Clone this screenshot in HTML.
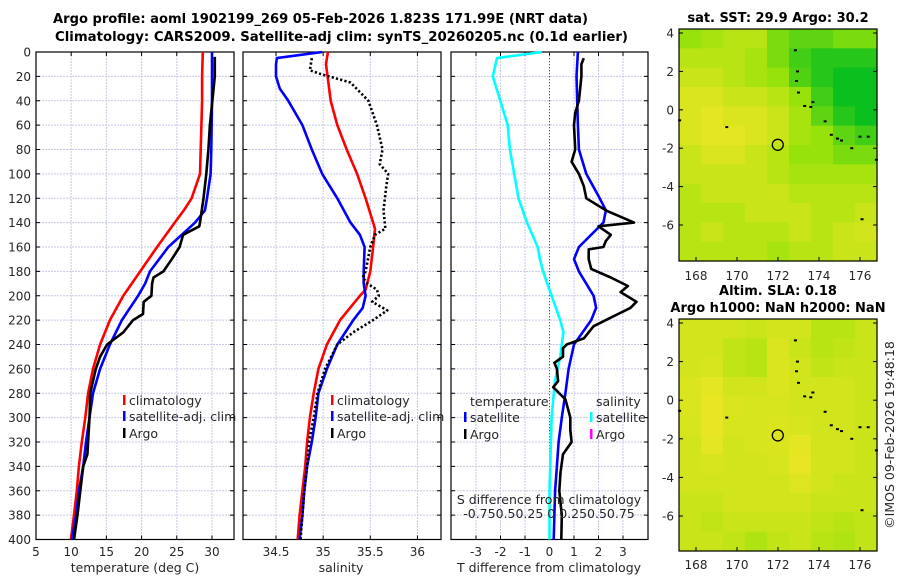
<!DOCTYPE html>
<html><head><meta charset="utf-8">
<style>
body{margin:0;background:#fff;}
svg{display:block;font-family:"DejaVu Sans","Liberation Sans",sans-serif;}
</style></head>
<body>
<svg id="fig" width="900" height="580" viewBox="0 0 900 580">
<g font-weight="bold" font-size="13" fill="#000" text-anchor="middle">
<text x="53" y="23" text-anchor="start" textLength="535" lengthAdjust="spacingAndGlyphs">Argo profile: aoml 1902199_269 05-Feb-2026 1.823S 171.99E (NRT data)</text>
<text x="55" y="41" text-anchor="start" textLength="573" lengthAdjust="spacingAndGlyphs">Climatology: CARS2009. Satellite-adj clim: synTS_20260205.nc (0.1d earlier)</text>
<text x="778" y="22">sat. SST: 29.9 Argo: 30.2</text>
<text x="778" y="295">Altim. SLA: 0.18</text>
<text x="778" y="312">Argo h1000: NaN h2000: NaN</text>
</g>
<text x="0" y="0" transform="translate(894,435) rotate(-90)" text-anchor="middle" font-size="12.5" fill="#262626">©IMOS 09-Feb-2026 19:48:18</text>
</svg>
<script>
// ---------- data ----------
const depthTicks = [0,20,40,60,80,100,120,140,160,180,200,220,240,260,280,300,320,340,360,380,400];
const tempTicks = [5,10,15,20,25,30];
const salTicks = [34.5,35,35.5,36];
const salTickLabels = ['34.5','35','35.5','36'];
const dTTicks = [-3,-2,-1,0,1,2,3];

const tClimDepth = [0,20,40,60,80,100,120,130,140,160,180,200,220,240,260,280,300,320,340,360,380,400];
const tClimVal   = [28.7,28.6,28.6,28.5,28.4,28.3,27.1,26.0,24.7,22.2,19.8,17.4,15.5,14.1,13.1,12.4,12.0,11.5,11.1,10.8,10.4,9.96];
const tSatDepth  = [0,40,80,100,120,130,140,150,160,180,190,200,220,240,260,280,300,320,340,360,380,400];
const tSatVal    = [30.0,30.0,29.9,29.8,29.3,29.0,27.6,25.7,23.8,21.2,20.5,19.5,17.2,15.5,14.1,13.1,12.6,12.1,11.7,11.1,10.7,10.1];
const tArgoDepth = [4,20,60,80,100,120,140,143,150,160,170,180,185,190,200,205,215,220,230,240,250,260,280,300,320,330,340,360,380,400];
const tArgoVal   = [30.4,30.4,29.7,29.5,29.2,28.8,28.3,28.2,25.9,25.4,24.3,23.1,21.7,21.5,21.4,20.3,20.2,18.8,17.4,15.1,14.1,13.5,12.7,12.6,12.4,12.3,11.7,11.3,10.9,10.4];

const sClimDepth = [0,10,40,60,80,100,120,145,160,180,195,200,220,240,260,280,300,320,340,360,380,400];
const sClimVal   = [35.05,35.03,35.08,35.15,35.25,35.36,35.45,35.55,35.53,35.5,35.45,35.39,35.18,35.04,34.95,34.9,34.86,34.83,34.81,34.78,34.75,34.73];
const sSatDepth  = [0,5,10,20,30,40,60,80,100,120,140,150,160,180,190,200,210,220,240,260,280,300,320,340,360,380,400];
const sSatVal    = [34.99,34.51,34.5,34.5,34.54,34.63,34.78,34.88,34.99,35.15,35.29,35.39,35.44,35.43,35.43,35.45,35.42,35.32,35.15,35.04,34.95,34.92,34.88,34.83,34.8,34.78,34.75];
const sArgoDepth = [5,15,18,25,40,60,80,92,100,110,130,145,150,160,180,185,190,195,200,205,212,220,230,240,260,280,300,320,340,360,380,400];
const sArgoVal   = [34.88,34.86,34.97,35.29,35.48,35.57,35.63,35.6,35.69,35.67,35.64,35.66,35.55,35.5,35.45,35.42,35.47,35.57,35.59,35.52,35.68,35.53,35.32,35.15,35.02,34.94,34.9,34.85,34.83,34.8,34.78,34.76];

const dTSatDepth = [0,20,60,80,100,120,130,140,160,170,180,200,210,220,240,260,280,300,320,340,360,380,400];
const dTSatVal   = [1.16,1.1,1.16,1.2,1.5,2.05,2.3,2.2,1.2,1.0,1.2,1.8,1.9,1.7,1.0,0.78,0.65,0.5,0.37,0.3,0.23,0.2,0.17];
const dTArgoDepth = [5,10,20,40,50,60,80,90,100,110,120,125,130,140,143,150,155,160,162,170,178,185,192,197,205,210,215,220,225,235,240,243,250,255,260,270,275,285,300,310,320,330,345,360,380,400];
const dTArgoVal   = [1.4,1.3,1.3,1.2,1.05,1.0,1.05,0.9,1.2,1.4,1.5,1.9,2.3,3.45,2.0,2.5,2.3,2.2,1.6,1.6,1.7,2.5,3.2,2.9,3.55,3.3,2.8,2.3,1.8,1.4,0.7,0.55,0.55,0.2,0.3,0.35,0.15,0.65,0.85,0.85,0.9,0.55,0.45,0.4,0.5,0.48];
const dSSatDepth = [0,5,20,40,60,80,100,120,140,160,170,180,200,220,230,250,270,300,330,360,400];
const dSSatVal   = [-0.07,-0.49,-0.53,-0.46,-0.39,-0.37,-0.33,-0.29,-0.21,-0.11,-0.09,-0.06,0.02,0.1,0.13,0.1,0.05,0.02,0.01,0.0,0.0];

const lonTicks = [168,170,172,174,176];
const latTicks = [4,2,0,-2,-4,-6];
const sstGrid = [
 [0.5,0.4,0.3,0.3,0.6,0.7,0.7,0.6,0.6],
 [0.3,0.3,0.3,0.4,0.6,0.8,0.9,0.9,0.9],
 [0.2,0.2,0.3,0.4,0.5,0.75,0.9,1,1],
 [0.1,0.1,0.2,0.2,0.3,0.5,0.8,1,1],
 [0.1,0.05,0.1,0.1,0.2,0.4,0.7,0.9,1],
 [0.1,0.05,0.05,0.1,0.2,0.4,0.5,0.7,0.8],
 [0.2,0.1,0.1,0.2,0.3,0.5,0.5,0.6,0.6],
 [0.2,0.2,0.2,0.2,0.3,0.4,0.4,0.4,0.4],
 [0.3,0.2,0.2,0.2,0.2,0.3,0.3,0.3,0.3],
 [0.3,0.3,0.3,0.2,0.2,0.2,0.3,0.3,0.2],
 [0.3,0.2,0.3,0.3,0.3,0.2,0.3,0.2,0.15],
 [0.3,0.3,0.3,0.3,0.4,0.3,0.3,0.2,0.2]];
const slaGrid = [
 [0.15,0.15,0.15,0.2,0.15,0.15,0.3,0.3,0.2],
 [0.15,0.15,0.25,0.3,0.1,0.2,0.3,0.25,0.2],
 [0.15,0.12,0.25,0.3,0.1,0.15,0.25,0.2,0.2],
 [0.1,0.05,0.15,0.15,0.1,0.15,0.15,0.15,0.2],
 [0.1,0.02,0.1,0.12,0.12,0.15,0.15,0.15,0.2],
 [0.12,0.02,0.12,0.12,0.1,0.12,0.15,0.15,0.2],
 [0.15,0.05,0.15,0.12,0.1,0.05,0.15,0.15,0.2],
 [0.15,0.12,0.15,0.15,0.12,0.02,0.15,0.15,0.2],
 [0.15,0.15,0.15,0.15,0.15,0.08,0.15,0.2,0.2],
 [0.2,0.2,0.15,0.15,0.15,0.15,0.2,0.2,0.2],
 [0.2,0.25,0.2,0.2,0.2,0.2,0.25,0.3,0.25],
 [0.2,0.2,0.25,0.35,0.25,0.2,0.3,0.35,0.25]];
const islandLon = [172.85,172.95,172.9,173.0,173.3,173.6,173.7,174.3,174.6,174.9,175.1,175.6,176.0,176.4,176.8,169.5,167.2,176.1];
const islandLat = [3.1,2.0,1.5,0.9,0.2,0.15,0.4,-0.6,-1.3,-1.5,-1.6,-2.0,-1.4,-1.4,-2.6,-0.9,-0.55,-5.7];
const argoLon = [171.99];
const argoLat = [-1.823];

// ---------- helpers ----------
const NS='http://www.w3.org/2000/svg';
const svg=document.getElementById('fig');
function el(tag,attrs,parent){const e=document.createElementNS(NS,tag);for(const k in attrs)e.setAttribute(k,attrs[k]);(parent||svg).appendChild(e);return e;}
function txt(x,y,s,anchor,parent,size){const t=el('text',{x:x,y:y,'text-anchor':anchor||'middle','font-size':size||12,fill:'#262626'},parent);t.textContent=s;return t;}

const Y0=52, Y1=539.5, DMAX=400;
const yD=d=>Y0+(d/DMAX)*(Y1-Y0);
const P1={x0:36,x1:234,v0:5,v1:33.13};
const P2={x0:243,x1:441,v0:34.15,v1:36.25};
const P3={x0:451,x1:648,v0:-4.02,v1:4.02};
const S3={v0:-0.92,v1:0.92};
const sx=(P,v)=>P.x0+(v-P.v0)/(P.v1-P.v0)*(P.x1-P.x0);
const sxS=v=>P3.x0+(v-S3.v0)/(S3.v1-S3.v0)*(P3.x1-P3.x0);

function panelFrame(P,name,xt,xl,showY){
  const g=el('g',{});
  
  
  xt.forEach((v,i)=>{const x=sx(P,v);
    const l=el('line',{x1:x,x2:x,y1:Y0,y2:Y1,stroke:'#c5c9e6','stroke-width':1,'stroke-dasharray':'2 1'},g);
    
    el('line',{x1:x,x2:x,y1:Y1,y2:Y1-4,stroke:'#000'},g);el('line',{x1:x,x2:x,y1:Y0,y2:Y0+4,stroke:'#000'},g);
    const t=txt(x,556,xl[i],'middle',g);});
  depthTicks.forEach(d=>{const y=yD(d);
    const l=el('line',{x1:P.x0,x2:P.x1,y1:y,y2:y,stroke:'#c5c9e6','stroke-width':1,'stroke-dasharray':'2 1'},g);
    
    el('line',{x1:P.x0,x2:P.x0+4,y1:y,y2:y,stroke:'#000'},g);el('line',{x1:P.x1,x2:P.x1-4,y1:y,y2:y,stroke:'#000'},g);
    if(showY){const t=txt(P.x0-5,y+4.5,String(d),'end',g);}});
  const r=el('rect',{x:P.x0,y:Y0,width:P.x1-P.x0,height:Y1-Y0,fill:'none',stroke:'#000','stroke-width':1.2},g);
  
  return g;
}
function line(depths,vals,fx,color,name,dash){
  const pts=depths.map((d,i)=>fx(vals[i]).toFixed(1)+','+yD(d).toFixed(1)).join(' ');
  const p=el('polyline',{points:pts,fill:'none',stroke:color,'stroke-width':2.6,'stroke-linejoin':'round'});
  if(dash)p.setAttribute('stroke-dasharray',dash);
  
  
}
function legendEntry(x,y,color,label,name){
  const g=el('g',{});
  
  
  el('rect',{x:x,y:y-10,width:2.5,height:10,fill:color},g);
  txt(x+6,y,label,'start',g,12.5);
}

// ---------- panel 1 ----------
panelFrame(P1,'temperature-panel',tempTicks,tempTicks.map(String),true);
line(tClimDepth,tClimVal,v=>sx(P1,v),'#ff0000','temp-climatology-line');
line(tSatDepth,tSatVal,v=>sx(P1,v),'#0000ff','temp-satellite-line');
line(tArgoDepth,tArgoVal,v=>sx(P1,v),'#000000','temp-argo-line');
let t=txt(135,572,'temperature (deg C)','middle',svg,12.5);
legendEntry(123,405,'#ff0000','climatology','legend-climatology-temp');
legendEntry(123,421,'#0000ff','satellite-adj. clim','legend-satellite-temp');
legendEntry(123,438,'#000000','Argo','legend-argo-temp');

// ---------- panel 2 ----------
panelFrame(P2,'salinity-panel',salTicks,salTickLabels,false);
line(sClimDepth,sClimVal,v=>sx(P2,v),'#ff0000','sal-climatology-line');
line(sSatDepth,sSatVal,v=>sx(P2,v),'#0000ff','sal-satellite-line');
line(sArgoDepth,sArgoVal,v=>sx(P2,v),'#000000','sal-argo-line','2.2 2.2');
t=txt(341,572,'salinity','middle',svg,12.5);
legendEntry(331,405,'#ff0000','climatology','legend-climatology-sal');
legendEntry(331,421,'#0000ff','satellite-adj. clim','legend-satellite-sal');
legendEntry(331,438,'#000000','Argo','legend-argo-sal');

// ---------- panel 3 ----------
panelFrame(P3,'difference-panel',dTTicks,dTTicks.map(String),false);
el('line',{x1:sx(P3,0),x2:sx(P3,0),y1:Y0,y2:Y1,stroke:'#555','stroke-width':1,'stroke-dasharray':'1 2'});
line(dSSatDepth,dSSatVal,sxS,'#00ffff','sal-diff-satellite-line');
line(dTSatDepth,dTSatVal,v=>sx(P3,v),'#0000ff','temp-diff-satellite-line');
line(dTArgoDepth,dTArgoVal,v=>sx(P3,v),'#000000','temp-diff-argo-line');
t=txt(549,572,'T difference from climatology','middle',svg,12.5);
t=txt(549,504,'S difference from climatology','middle',svg,12.5);
t=txt(549,518,'-0.750.50.25 0 0.250.50.75','middle',svg,12.5);
t=txt(470,406,'temperature','start',svg,12.5);
t=txt(596,406,'salinity','start',svg,12.5);
legendEntry(464,422,'#0000ff','satellite','legend-tdiff-satellite');
legendEntry(464,439,'#000000','Argo','legend-tdiff-argo');
legendEntry(590,422,'#00ffff','satellite','legend-sdiff-satellite');
legendEntry(590,439,'#ff00ff','Argo','legend-sdiff-argo');

// ---------- maps ----------
const LON0=167.17, LON1=176.83;
function cmap(g){
  const a=[235,230,35], b=[150,226,10], c=[10,192,30];
  let p,q,f; if(g<0.5){p=a;q=b;f=g/0.5;} else {p=b;q=c;f=(g-0.5)/0.5;}
  return 'rgb('+p.map((v,i)=>Math.round(v+(q[i]-v)*f)).join(',')+')';
}
function drawMap(M,grid,name,labY){
  const g=el('g',{});
  
  
  const mx=lon=>M.x0+(lon-LON0)/(LON1-LON0)*(M.x1-M.x0);
  const my=lat=>M.yTop+(M.lat4-lat)*M.pd;
  const yBot=M.y1;
  const rows=grid.length, cols=grid[0].length;
  const cw=(M.x1-M.x0)/cols, ch=(yBot-M.y0)/rows;
  grid.forEach((row,r)=>row.forEach((v,c)=>{
    const cell=el('rect',{x:(M.x0+c*cw).toFixed(2),y:(M.y0+r*ch).toFixed(2),width:(cw+0.6).toFixed(2),height:(ch+0.6).toFixed(2),fill:cmap(v)},g);
    
    
  }));
  islandLon.forEach((lon,i)=>{
    const d=el('rect',{x:mx(lon)-1.5,y:my(islandLat[i])-1,width:3,height:2,fill:'#000'},g);
    
    
  });
  argoLon.forEach((lon,i)=>{
    const c=el('circle',{cx:mx(lon),cy:my(argoLat[i]),r:5.5,fill:'none',stroke:'#000','stroke-width':1.3},g);
    
    
  });
  el('rect',{x:M.x0,y:M.y0,width:M.x1-M.x0,height:yBot-M.y0,fill:'none',stroke:'#000','stroke-width':1.2},g);
  lonTicks.forEach(lon=>{const x=mx(lon);el('line',{x1:x,x2:x,y1:yBot,y2:yBot-4,stroke:'#000'},g);
    const tl=txt(x,labY,String(lon),'middle',g);});
  latTicks.forEach(lat=>{const y=my(lat);el('line',{x1:M.x0,x2:M.x0+4,y1:y,y2:y,stroke:'#000'},g);el('line',{x1:M.x1,x2:M.x1-4,y1:y,y2:y,stroke:'#000'},g);
    const tl=txt(M.x0-5,y+4.5,String(lat),'end',g);});
}
drawMap({x0:679,x1:877,y0:29,y1:261,yTop:33,lat4:4,pd:19.2},sstGrid,'sst-map',280);
drawMap({x0:679,x1:877,y0:319,y1:551,yTop:323,lat4:4,pd:19.3},slaGrid,'sla-map',569);
</script>
</body></html>
